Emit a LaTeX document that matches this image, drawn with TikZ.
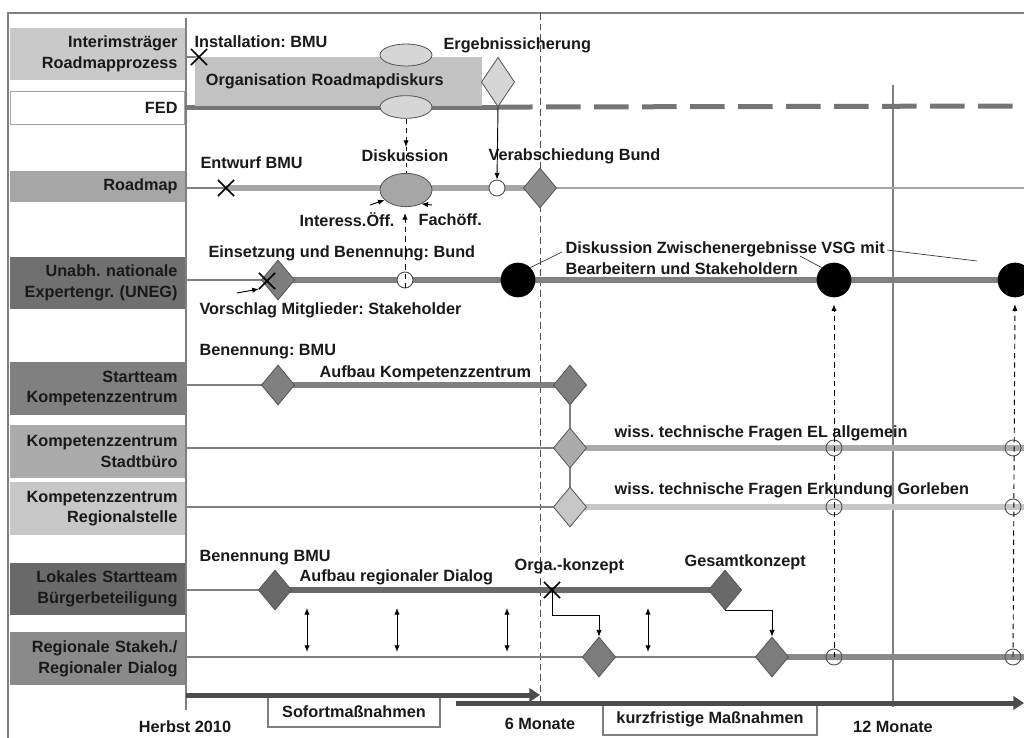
\documentclass[tikz,border=0pt]{standalone}
\usepackage{fontspec}
\setmainfont{Liberation Sans}
\usetikzlibrary{shapes.geometric,shapes.misc,arrows.meta,backgrounds}
\frenchspacing

\definecolor{cInt}{gray}{0.79}
\definecolor{cBar}{gray}{0.76}
\definecolor{cLight}{gray}{0.84}
\definecolor{cRoad}{gray}{0.65}
\definecolor{cUneg}{gray}{0.44}
\definecolor{cUnegLine}{gray}{0.50}
\definecolor{cStart}{gray}{0.50}
\definecolor{cStadt}{gray}{0.67}
\definecolor{cRegst}{gray}{0.78}
\definecolor{cLokal}{gray}{0.41}
\definecolor{cStakeh}{gray}{0.54}
\definecolor{cEdge}{gray}{0.33}
\definecolor{cGrid}{gray}{0.50}
\definecolor{cFed}{gray}{0.46}

\tikzset{
  lanebox/.style={minimum width=131pt, minimum height=39.5pt, text width=120pt, align=right, inner xsep=5.5pt, inner ysep=0pt},
  rowthin/.style={draw=cGrid, line width=0.9pt},
  rowthick/.style={line width=4.5pt},
  dia/.style={diamond, draw=cEdge, line width=0.6pt, minimum width=25pt, minimum height=30pt, inner sep=0pt},
  opencirc/.style={circle, draw=cEdge, line width=0.7pt, minimum size=12pt, inner sep=0pt},
  blackdot/.style={circle, fill=black, minimum size=26pt, inner sep=0pt},
  xmark/.style={cross out, draw=black, line width=1.1pt, minimum size=11pt, inner sep=0pt},
  smallarrow/.style={-{Latex[length=5pt,width=4pt]}, line width=0.7pt, draw=black},
  dasharrow/.style={smallarrow, dash pattern=on 4pt off 3pt},
  leader/.style={draw=black!80, line width=0.5pt},
  phasebar/.style={line width=3.75pt, draw=black!70, -{Triangle[length=8pt,width=10pt]}},
  phasebox/.style={draw=cGrid, line width=0.8pt, fill=white, inner sep=0pt}
}

\begin{document}
\begin{tikzpicture}[x=0.75pt,y=-0.75pt,
  every node/.style={font=\fontsize{12.2}{15.5}\selectfont\bfseries, text=black!90, inner sep=1pt}]
\useasboundingbox (0,0) rectangle (1024,738);

% lane labels
\node[lanebox, fill=cInt] (l-int) at (97.5,54) {Interimsträger\\Roadmapprozess};
\node[lanebox, fill=white, draw=cGrid!70, line width=0.7pt, minimum height=24.75pt] (l-fed) at (97.5,107.5) {FED};
\node[lanebox, fill=cRoad, minimum height=23.25pt] (l-rm) at (97.5,186.5) {Roadmap};
\node[lanebox, fill=cUneg] (l-uneg) at (97.5,283) {Unabh. nationale\\Expertengr. (UNEG)};
\node[lanebox, fill=cStart] (l-st) at (97.5,388.5) {Startteam\\Kompetenzzentrum};
\node[lanebox, fill=cStadt] (l-sb) at (97.5,451.5) {Kompetenzzentrum\\Stadtbüro};
\node[lanebox, fill=cRegst] (l-rs) at (97.5,508.5) {Kompetenzzentrum\\Regionalstelle};
\node[lanebox, fill=cLokal] (l-lok) at (97.5,589) {Lokales Startteam\\Bürgerbeteiligung};
\node[lanebox, fill=cStakeh] (l-reg) at (97.5,658.5) {Regionale Stakeh./\\Regionaler Dialog};

% Interimstraeger / FED
\node[fill=cBar, anchor=north west, minimum width=215pt, minimum height=36.75pt, text width=199pt, inner xsep=8pt, align=left] (orga) at (195,57) {Organisation Roadmapdiskurs};
\node[dia, fill=cLight, minimum height=37pt] (d-erg) at (498,82) {};
\node[ellipse, draw=cEdge, line width=0.6pt, fill=cLight, minimum width=39pt, minimum height=16.5pt, inner sep=0pt] (e-top) at (406,55) {};
\node[ellipse, draw=cEdge, line width=0.6pt, fill=cLight, minimum width=39pt, minimum height=17pt, inner sep=0pt] (e-bot) at (406,107) {};
\node[xmark] (x-int) at (199,57) {};
\coordinate (fed-end) at (1024,106);

% Roadmap
\node[xmark] (x-rm) at (226,188) {};
\node[ellipse, draw=cEdge, line width=0.6pt, fill=cRoad, minimum width=39pt, minimum height=25pt, inner sep=0pt] (disk) at (406,190) {};
\node[opencirc, fill=white] (c-rm) at (497,188) {};
\node[dia, fill=cRoad!85!black] (d-verab) at (540,188) {};
\coordinate (rm-end) at (1024,188);

% UNEG
\node[dia, fill=cUneg!90] (d-uneg) at (278,280) {};
\node[xmark] (x-uneg) at (267,281) {};
\node[opencirc, fill=white] (c-uneg) at (405,280) {};
\node[blackdot] (b1) at (518,280) {};
\node[blackdot] (b2) at (834,280) {};
\node[blackdot] (b3) at (1015,280) {};
\coordinate (uneg-end) at (1024,280);

% Kompetenzzentrum
\node[dia, fill=cStart] (d-st1) at (278,385) {};
\node[dia, fill=cStart] (d-st2) at (570,385) {};
\node[dia, fill=cStadt] (d-sb) at (570,448) {};
\node[dia, fill=cRegst] (d-rs) at (570,507) {};
\node[opencirc] (c-sb1) at (834,448) {};
\node[opencirc] (c-sb2) at (1013,448) {};
\node[opencirc] (c-rs1) at (834,507) {};
\node[opencirc] (c-rs2) at (1013,507) {};
\coordinate (sb-end) at (1024,448);
\coordinate (rs-end) at (1024,507);

% Buergerbeteiligung
\node[dia, fill=cLokal] (d-lok1) at (275,590) {};
\node[dia, fill=cLokal] (d-ges) at (725,590) {};
\node[xmark] (x-orga) at (552,590) {};
\node[dia, fill=cStakeh!90!black] (d-reg1) at (599,657) {};
\node[dia, fill=cStakeh!90!black] (d-reg2) at (772,657) {};
\node[opencirc] (c-reg1) at (834,657) {};
\node[opencirc] (c-reg2) at (1013,657) {};
\coordinate (reg-end) at (1024,657);

% texts
\node[anchor=west] (t-inst) at (193,42) {Installation: BMU};
\node[anchor=west] (t-erg) at (442,45) {Ergebnissicherung};
\node[anchor=west] (t-entw) at (199,163) {Entwurf BMU};
\node[anchor=west] (t-disk) at (360,156) {Diskussion};
\node[anchor=west] (t-verab) at (487,156) {Verabschiedung Bund};
\node[anchor=west] (t-io) at (298,220) {Interess.Öff.};
\node[anchor=west] (t-fach) at (417,220) {Fachöff.};
\node[anchor=west] (t-eins) at (207,253) {Einsetzung und Benennung: Bund};
\node[anchor=west] (t-vors) at (198,310) {Vorschlag Mitglieder: Stakeholder};
\node[anchor=west, align=left] (t-vsg) at (564,258) {Diskussion Zwischenergebnisse VSG mit\\Bearbeitern und Stakeholdern};
\node[anchor=west] (t-ben1) at (198,352) {Benennung: BMU};
\node[anchor=west] (t-aufkz) at (318,373) {Aufbau Kompetenzzentrum};
\node[anchor=west] (t-el) at (613,433) {wiss. technische Fragen EL allgemein};
\node[anchor=west] (t-gorl) at (613,490) {wiss. technische Fragen Erkundung Gorleben};
\node[anchor=west] (t-ben2) at (198,558) {Benennung BMU};
\node[anchor=west] (t-aufrd) at (298,577) {Aufbau regionaler Dialog};
\node[anchor=west] (t-orga) at (513,566) {Orga.-konzept};
\node[anchor=west] (t-ges) at (683,562) {Gesamtkonzept};

% time axis
\node[phasebox, minimum width=129pt, minimum height=22.5pt] (sof) at (354,712) {Sofortmaßnahmen};
\node[phasebox, minimum width=160.5pt, minimum height=24pt] (kurz) at (710,719) {kurzfristige Maßnahmen};
\coordinate (sof-a) at (186,695);
\coordinate (sof-b) at (540,695);
\coordinate (kurz-a) at (456,703);
\coordinate (kurz-b) at (1024,703);
\draw[phasebar] (sof-a) -- (sof-b);
\draw[phasebar] (kurz-a) -- (kurz-b);
\node (m0) at (185,727) {Herbst 2010};
\node (m6) at (540,724) {6 Monate};
\node (m12) at (893,727) {12 Monate};

% connectors
\coordinate (tip-disk) at (406,147);
\coordinate (tip-uneg) at (405,213);
\coordinate (io-tail) at (370,205);
\coordinate (fach-tail) at (432,205);
\coordinate (vs-tail) at (237,293);
\coordinate (ld1) at (562,252);
\coordinate (ld2) at (800,256);
\coordinate (ld3a) at (887,250);
\coordinate (ld3b) at (977,261);
\draw[smallarrow] (d-erg.south) -- (c-rm.north);
\draw[dasharrow] (e-bot.south) -- (tip-disk);
\draw[draw=black, line width=0.5pt, dash pattern=on 3pt off 3pt] (tip-disk) -- (disk.north);
\draw[dasharrow] (c-uneg.south) -- (tip-uneg);
\draw[smallarrow] (io-tail) -- (disk.205);
\draw[smallarrow] (fach-tail) -- (disk.-42);
\draw[smallarrow] (vs-tail) -- (x-uneg.south west);
\draw[leader] (b1.north east) -- (ld1);
\draw[leader] (ld2) -- (b2.north west);
\draw[leader] (ld3a) -- (ld3b);
\draw[dasharrow, shorten >=5pt] (c-reg1.center) -- (b2.south);
\draw[dasharrow, shorten >=5pt] (c-reg2.center) -- (b3.south);
\draw[rowthin] (d-st2.south) -- (d-sb.north);
\draw[rowthin] (d-sb.south) -- (d-rs.north);
\draw[smallarrow, line width=0.6pt] (x-orga.center) -- ++(0,25) -| (d-reg1.north);
\draw[smallarrow, line width=0.6pt] (d-ges.south) -| (d-reg2.north);
\foreach \xx in {307,397,507,648}
  \draw[smallarrow, {Latex[length=5pt,width=4pt]}-{Latex[length=5pt,width=4pt]}] (\xx,608) -- (\xx,652);

\begin{scope}[on background layer]
\fill[white] (0,0) rectangle (1024,738);
% frame and time marks
\draw[cGrid, line width=0.8pt] (8,738) -- (8,13) -- (1024,13);
\draw[cGrid, line width=0.8pt] (186,18) -- (186,710);
\draw[black!70, line width=0.7pt, dash pattern=on 5pt off 3pt] (540,13) -- (540,705);
\draw[cGrid, line width=0.8pt] (893,85) -- (893,707);
% lanes
\draw[rowthin] (l-int.east |- x-int) -- (x-int.center);
\draw[rowthick, draw=cFed, line width=3.75pt] (l-fed.east |- d-erg.south) -- (d-erg.south);
\draw[rowthick, draw=cFed, line width=3.75pt, dash pattern=on 26pt off 10pt] (d-erg.south) -- (fed-end);
\draw[rowthin] (l-rm.east |- x-rm) -- (x-rm.center);
\draw[rowthick, draw=cRoad] (x-rm.center) -- (d-verab.center);
\draw[rowthin, draw=cRoad] (d-verab.center) -- (rm-end);
\draw[rowthin] (l-uneg.east |- d-uneg) -- (d-uneg.center);
\draw[rowthick, draw=cUnegLine] (d-uneg.center) -- (uneg-end);
\draw[rowthin] (l-st.east |- d-st1) -- (d-st1.center);
\draw[rowthick, draw=cStart] (d-st1.center) -- (d-st2.center);
\draw[rowthin] (l-sb.east |- d-sb) -- (d-sb.center);
\draw[rowthick, draw=cStadt] (d-sb.center) -- (sb-end);
\draw[rowthin] (l-rs.east |- d-rs) -- (d-rs.center);
\draw[rowthick, draw=cRegst] (d-rs.center) -- (rs-end);
\draw[rowthin] (l-lok.east |- d-lok1) -- (d-lok1.center);
\draw[rowthick, draw=cLokal] (d-lok1.center) -- (d-ges.center);
\draw[rowthin] (l-reg.east |- d-reg1) -- (d-reg1.center) -- (d-reg2.center);
\draw[rowthick, draw=cStakeh] (d-reg2.center) -- (reg-end);
\end{scope}
\end{tikzpicture}
\end{document}
